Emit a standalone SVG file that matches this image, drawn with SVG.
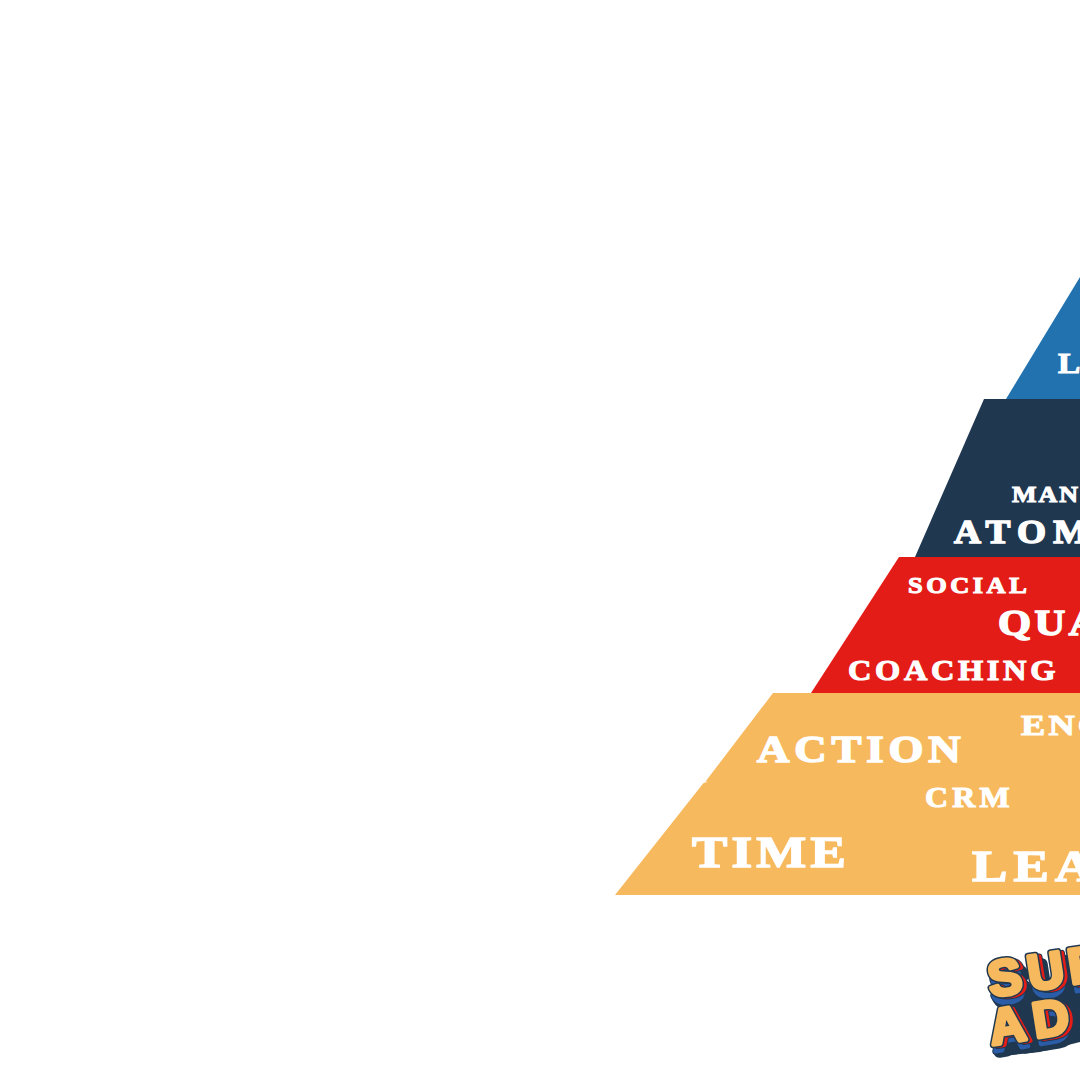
<svg xmlns="http://www.w3.org/2000/svg" width="1080" height="1080" viewBox="0 0 1080 1080">
<style>
.t{font-family:"Liberation Serif",serif;font-weight:700;fill:#fff;stroke:#fff;stroke-width:1.1px;paint-order:stroke}
.b{stroke-width:1.5px}
.l{font-family:"Liberation Sans",sans-serif;font-weight:700;font-size:50px;stroke-linejoin:round}
.o{fill:#203750;stroke:#203750;stroke-width:7px}
.face{fill:#F7B95E;stroke:#F7B95E;stroke-width:4px}
.side{fill:#2B5CA8;stroke:#2B5CA8;stroke-width:4px}
.edge{fill:#203750;stroke:#203750;stroke-width:6px}
.red{fill:#E41C17;stroke:#E41C17;stroke-width:4px}
.back{fill:#203750;stroke:#203750;stroke-width:12px}
</style>
<rect width="1080" height="1080" fill="#fff"/>
<g id="level-top">
<polygon points="1080,277 1006,399 1080,399" fill="#2272B0"/>
<text class="t" transform="translate(1058,373) scale(1.15,1)" font-size="29" textLength="68" lengthAdjust="spacing">LEA</text>
</g>
<g id="level-navy">
<polygon points="984,399 1080,399 1080,557 915,557" fill="#203750"/>
<text class="t" transform="translate(1012,502) scale(1.08,1)" font-size="24" textLength="61" lengthAdjust="spacing">MAN</text>
<text class="t b" transform="translate(954,543) scale(1.13,1)" font-size="33" textLength="119" lengthAdjust="spacing">ATOM</text>
</g>
<g id="level-red">
<polygon points="899,557 1080,557 1080,693 811,693" fill="#E41C17"/>
<text class="t" transform="translate(908,593) scale(1.1,1)" font-size="24" textLength="108" lengthAdjust="spacing">SOCIAL</text>
<text class="t b" transform="translate(998,635) scale(1.18,1)" font-size="36" textLength="86" lengthAdjust="spacing">QUA</text>
<text class="t" transform="translate(848,680) scale(1.08,1)" font-size="30" textLength="192" lengthAdjust="spacing">COACHING</text>
</g>
<g id="level-orange">
<polygon points="773,693 1080,693 1080,895 615,895 703.5,783 708,781.8 705.5,781.5" fill="#F7B95E"/>
<text class="t" transform="translate(1021,735) scale(1.25,1)" font-size="29" textLength="68" lengthAdjust="spacing">ENG</text>
<text class="t b" transform="translate(757,762) scale(1.15,1)" font-size="39" textLength="177" lengthAdjust="spacing">ACTION</text>
<text class="t" transform="translate(925,807) scale(1.1,1)" font-size="29" textLength="77" lengthAdjust="spacing">CRM</text>
<text class="t b" transform="translate(692,867) scale(1.2,1)" font-size="44" textLength="128" lengthAdjust="spacing">TIME</text>
<text class="t b" transform="translate(972,881) scale(1.2,1)" font-size="44" textLength="101" lengthAdjust="spacing">LEA</text>
</g>
<g id="logo">
<polygon points="1005,1000 1080,975 1080,1042 1040,1052 1003,1056 992,1044" fill="#203750"/>
<g transform="translate(991,997) rotate(-9)">
<text class="l back" x="5 45 86" y="10">SUP</text>
<text class="l edge" x="1 41 82" y="8">SUP</text>
<text class="l side" x="1 41 82" y="8">SUP</text>
<text class="l edge" x="4 44 85" y="2">SUP</text>
<text class="l red" x="4 44 85" y="2">SUP</text>
<text class="l o" x="0 40 81" y="0">SUP</text>
<text class="l face" x="0 40 81" y="0">SUP</text>
</g>
<g transform="translate(992,1045) rotate(-9)">
<text class="l back" x="5 49" y="8">AD</text>
<text class="l edge" x="1 45" y="7">AD</text>
<text class="l side" x="1 45" y="7">AD</text>
<text class="l edge" x="4 48" y="2">AD</text>
<text class="l red" x="4 48" y="2">AD</text>
<text class="l o" x="0 44" y="0">AD</text>
<text class="l face" x="0 44" y="0">AD</text>
</g>
</g>
</svg>
